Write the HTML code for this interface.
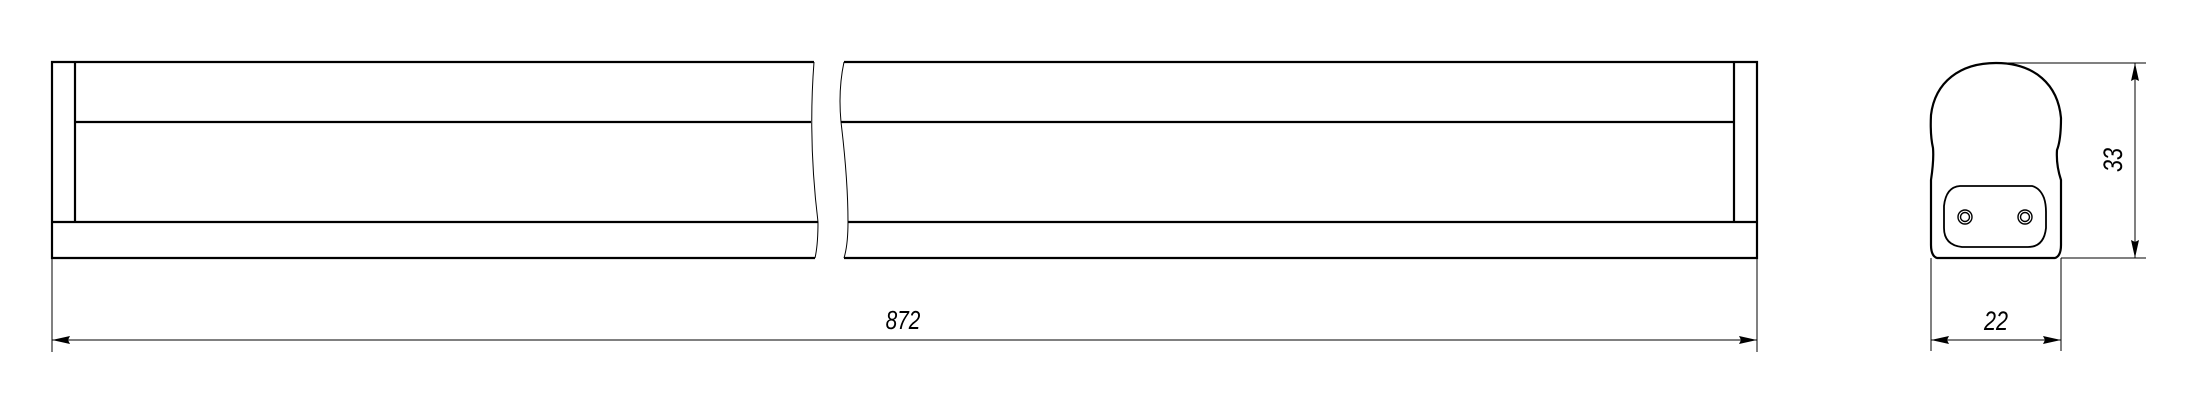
<!DOCTYPE html>
<html><head><style>html,body{margin:0;padding:0;background:#fff}svg{display:block}</style></head>
<body>
<svg width="2199" height="412" viewBox="0 0 2199 412" xmlns="http://www.w3.org/2000/svg">
<g fill="none" stroke="#000" stroke-width="2.2">
<path d="M814,62 H52 V258 H815"/>
<line x1="75" y1="62" x2="75" y2="222"/>
<line x1="75" y1="122" x2="811" y2="122"/>
<line x1="52" y1="222" x2="818" y2="222"/>
<path d="M844,62 H1757 V258 H844"/>
<line x1="1734" y1="62" x2="1734" y2="222"/>
<line x1="841" y1="122" x2="1734" y2="122"/>
<line x1="848" y1="222" x2="1757" y2="222"/>
</g>
<g fill="none" stroke="#000" stroke-width="1">
<path d="M814,62 Q808,140 818,222 Q818,245 815,258"/>
<path d="M844,62 Q838,90 841,122 Q848,180 848,222 Q848,245 844,258"/>
<line x1="52" y1="258" x2="52" y2="352"/>
<line x1="1757" y1="258" x2="1757" y2="352"/>
<line x1="52" y1="340" x2="1757" y2="340"/>
</g>
<polygon points="52,340 70,336 68,340 70,344" fill="#000"/>
<polygon points="1757,340 1739,336 1741,340 1739,344" fill="#000"/>
<text x="903" y="329" font-family="Liberation Sans, sans-serif" font-style="italic" font-size="26" text-anchor="middle" transform="translate(903 0) scale(0.8 1) translate(-903 0)">872</text>

<g fill="none" stroke="#000" stroke-width="2.2">
<path d="M1937,258 Q1931,256 1931,245 L1931,180 Q1934,160 1933,148 Q1930,135 1931,115 C1935,82 1960,63 1996,63 C2035,63 2058,85 2061,118 Q2061,140 2057,150 Q2056,165 2061,180 L2061,245 Q2061,256 2055,258 Z"/>
<path d="M1960,186 H2032 Q2040,188 2044,198 Q2046,204 2046,212 V228 Q2044,247 2028,247 H1962 Q1944,245 1944,228 V206 Q1946,187 1960,186 Z" stroke-width="1.8"/>
</g>
<g fill="none" stroke="#000" stroke-width="1.4">
<circle cx="1965" cy="217" r="7"/><circle cx="1965" cy="217" r="4.5"/>
<circle cx="2025" cy="217" r="7"/><circle cx="2025" cy="217" r="4.5"/>
</g>
<g fill="none" stroke="#000" stroke-width="1">
<line x1="1997" y1="63" x2="2146" y2="63"/>
<line x1="2061" y1="258" x2="2146" y2="258"/>
<line x1="2135" y1="63" x2="2135" y2="258"/>
<line x1="1931" y1="258" x2="1931" y2="351"/>
<line x1="2061" y1="258" x2="2061" y2="351"/>
<line x1="1931" y1="340" x2="2061" y2="340"/>
</g>
<polygon points="2135,63 2131,81 2135,79 2139,81" fill="#000"/>
<polygon points="2135,258 2131,240 2135,242 2139,240" fill="#000"/>
<polygon points="1931,340 1949,336 1947,340 1949,344" fill="#000"/>
<polygon points="2061,340 2043,336 2045,340 2043,344" fill="#000"/>
<text x="1996" y="330" font-family="Liberation Sans, sans-serif" font-style="italic" font-size="27" text-anchor="middle" transform="translate(1996 0) scale(0.8 1) translate(-1996 0)">22</text>
<text x="0" y="0" font-family="Liberation Sans, sans-serif" font-style="italic" font-size="27" text-anchor="middle" transform="translate(2122 160) rotate(-90) scale(0.8 1)">33</text>
</svg>
</body></html>
